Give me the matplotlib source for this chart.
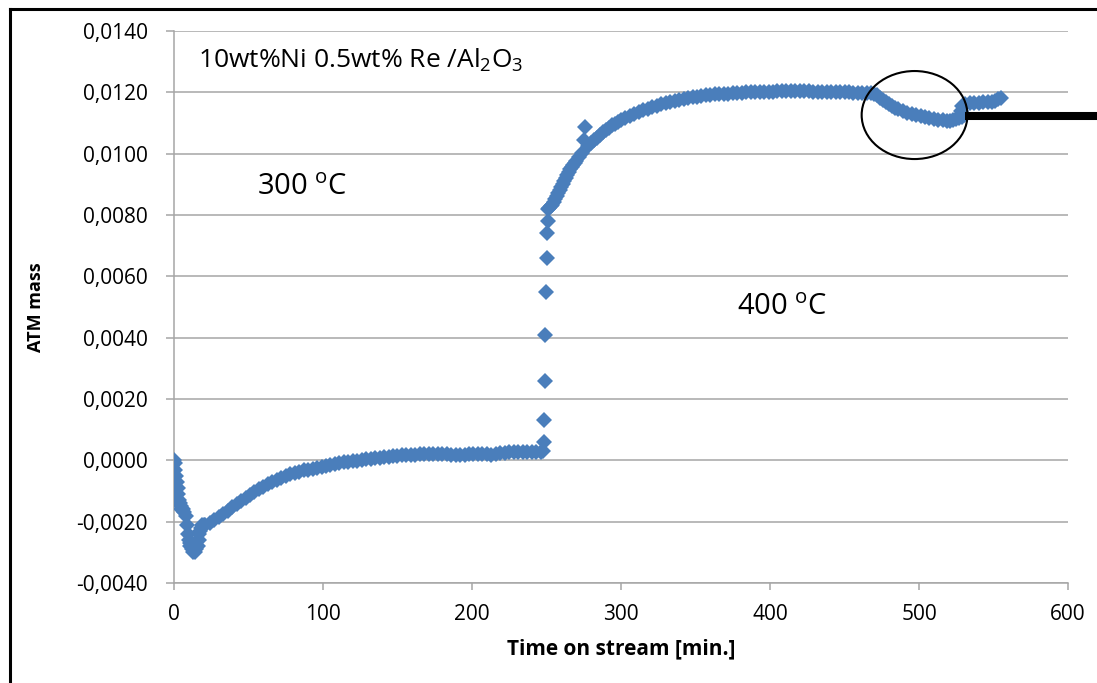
import matplotlib
matplotlib.use("Agg")
import matplotlib.pyplot as plt
from matplotlib.patches import Ellipse
from matplotlib.lines import Line2D
from matplotlib.ticker import FuncFormatter

plt.rcParams['font.family'] = ['Open Sans', 'DejaVu Sans']
plt.rcParams['mathtext.default'] = 'regular'

# start-up dip at 300 C
t_start = [0, 0.5, 1, 1.5, 2, 2.5, 3, 3.5, 4, 4.5, 5, 6, 7, 8, 9, 9.5, 10, 10.5,
           11, 12, 13, 14, 15, 16, 16.5, 17, 17.5, 18, 19, 20]
m_start = [0.0, -0.0001, -0.0003, -0.0005, -0.0007, -0.0009, -0.0011, -0.0013,
           -0.0014, -0.0015, -0.0016, -0.0016, -0.0017, -0.0018, -0.0021, -0.0024,
           -0.0026, -0.0027, -0.0028, -0.0029, -0.0030, -0.0030, -0.0029, -0.0028,
           -0.0026, -0.0024, -0.0023, -0.0022, -0.0021, -0.0021]

# recovery at 300 C
t_300 = [21, 24, 27, 30, 33, 36, 39, 42, 45, 48, 51, 54, 57, 60, 63, 66, 69, 72,
         75, 78, 81, 84, 87, 90, 93, 96, 99, 102, 105, 108, 111, 114, 117, 120,
         123, 126, 129, 132, 135, 138, 141, 144, 147, 150, 153, 156, 159, 162,
         165, 168, 171, 174, 177, 180, 183, 186, 189, 192, 195, 198, 201, 204,
         207, 210, 213, 216, 219, 222, 225, 228, 231, 234, 237, 240, 243, 246, 247.5]
m_300 = [-0.00210, -0.00203, -0.00195, -0.00185, -0.00175, -0.00164, -0.00153,
         -0.00142, -0.00132, -0.00122, -0.00112, -0.00103, -0.00094, -0.00086,
         -0.00078, -0.00070, -0.00063, -0.00057, -0.00051, -0.00046, -0.00041,
         -0.00037, -0.00033, -0.00030, -0.00027, -0.00024, -0.00021, -0.00018,
         -0.00015, -0.00012, -0.00009, -0.00007, -0.00005, -0.00003, -0.00001,
         0.00001, 0.00003, 0.00005, 0.00007, 0.00009, 0.00011, 0.00012, 0.00013,
         0.00015, 0.00016, 0.00017, 0.00018, 0.00019, 0.00020, 0.00020, 0.00021,
         0.00022, 0.00022, 0.00021, 0.00020, 0.00019, 0.00018, 0.00018, 0.00019,
         0.00021, 0.00022, 0.00022, 0.00021, 0.00020, 0.00019, 0.00020, 0.00023,
         0.00025, 0.00026, 0.00026, 0.00027, 0.00027, 0.00027, 0.00028, 0.00028,
         0.00028, 0.00030]

# temperature step
t_jump = [248.5, 248.3, 248.8, 249.2, 249.6, 250.0, 250.4, 250.8]
m_jump = [0.0006, 0.0013, 0.0026, 0.0041, 0.0055, 0.0066, 0.0074, 0.0078]

# 400 C
t_400 = [251, 252, 253, 254, 255, 256, 257, 258, 259, 260, 261, 262, 263, 264,
         265, 266, 267, 268, 269, 270, 272, 274, 275, 276, 278, 280, 282, 284,
         286, 288, 290, 292, 294, 296, 298, 300, 303, 306, 309, 312, 315, 318,
         321, 324, 327, 330, 333, 336, 339, 342, 345, 348, 351, 354, 357, 360,
         363, 366, 369, 372, 375, 378, 381, 384, 387, 390, 393, 396, 399, 402,
         405, 408, 411, 414, 417, 420, 423, 426, 429, 432, 435, 438, 441, 444,
         447, 450, 453, 456, 459, 462, 465, 468, 470, 472, 474, 476, 478, 480,
         482, 484, 486, 489, 492, 495, 498, 501, 504, 507, 510, 513, 516, 519,
         521, 523, 525, 527, 529, 530, 528, 529, 531, 534, 537, 540, 543, 546,
         549, 551, 553, 555]
m_400 = [0.00820, 0.00824, 0.00828, 0.00833, 0.00842, 0.00852, 0.00862, 0.00872,
         0.00882, 0.00892, 0.00902, 0.00912, 0.00922, 0.00932, 0.00941, 0.00949,
         0.00956, 0.00963, 0.00970, 0.00976, 0.00989, 0.01001, 0.01045, 0.01087,
         0.01024, 0.01034, 0.01043, 0.01052, 0.01062, 0.01070, 0.01078, 0.01085,
         0.01092, 0.01098, 0.01104, 0.01110, 0.01117, 0.01124, 0.01130, 0.01136,
         0.01142, 0.01147, 0.01152, 0.01157, 0.01161, 0.01165, 0.01168, 0.01172,
         0.01175, 0.01178, 0.01181, 0.01184, 0.01186, 0.01188, 0.01190, 0.01192,
         0.01193, 0.01194, 0.01195, 0.01196, 0.01197, 0.01198, 0.01199, 0.01200,
         0.01200, 0.01201, 0.01201, 0.01202, 0.01202, 0.01202, 0.01203, 0.01204,
         0.01205, 0.01206, 0.01205, 0.01204, 0.01203, 0.01203, 0.01202, 0.01202,
         0.01202, 0.01201, 0.01201, 0.01200, 0.01200, 0.01200, 0.01200, 0.01199,
         0.01199, 0.01199, 0.01198, 0.01197, 0.01195, 0.01190, 0.01183, 0.01176,
         0.01168, 0.01161, 0.01155, 0.01150, 0.01145, 0.01139, 0.01134, 0.01130,
         0.01126, 0.01122, 0.01119, 0.01116, 0.01113, 0.01111, 0.01109, 0.01107,
         0.01108, 0.01110, 0.01112, 0.01115, 0.01118, 0.01125, 0.01140, 0.01155,
         0.01162, 0.01165, 0.01166, 0.01166, 0.01167, 0.01167, 0.01168, 0.01172,
         0.01177, 0.01180]

x_ticks = [0, 100, 200, 300, 400, 500, 600]
y_ticks = [-0.004, -0.002, 0.0, 0.002, 0.004, 0.006, 0.008, 0.010, 0.012, 0.014]

blue = '#4a7ebb'
grey = '#a6a6a6'

fig = plt.figure(figsize=(10.97, 6.83), dpi=100)
ax = fig.add_axes([0.1586, 0.1464, 0.815, 0.8082])

for t, m in [(t_start, m_start), (t_300, m_300), (t_jump, m_jump), (t_400, m_400)]:
    ax.plot(t, m, linestyle='none', marker='D', markersize=8.5,
            color=blue, markeredgewidth=0, zorder=3)

ax.set_xlim(0, 600)
ax.set_ylim(-0.004, 0.014)
ax.set_xticks(x_ticks)
ax.set_yticks(y_ticks)
ax.yaxis.set_major_formatter(FuncFormatter(lambda v, p: f"{v:.4f}".replace('.', ',')))
ax.grid(axis='y', color=grey, linewidth=1.1)
ax.set_axisbelow(True)
for s in ['top', 'right']:
    ax.spines[s].set_visible(False)
for s in ['left', 'bottom']:
    ax.spines[s].set_color(grey)
    ax.spines[s].set_linewidth(1.1)
ax.tick_params(axis='y', length=6, width=1.1, color=grey, pad=13, labelsize=15)
ax.tick_params(axis='x', length=5, width=1.1, color=grey, pad=10, labelsize=15)

ax.set_xlabel('Time on stream [min.]', fontsize=15, fontweight='bold')
ax.set_ylabel('ATM mass', fontsize=13, fontweight='bold')
ax.xaxis.set_label_coords(0.5, -0.1)
ax.yaxis.set_label_coords(-0.144, 0.5)

ax.text(16, 0.01305, '10wt%Ni 0.5wt% Re /Al$_2$O$_3$', fontsize=19, va='center')
ax.text(56, 0.00891, '300 $^{o}$C', fontsize=21, va='center')
ax.text(378, 0.0050, '400 $^{o}$C', fontsize=21, va='center')

# circled region and pointer bar
ax.add_patch(Ellipse((497, 0.01126), 71, 0.00287, fill=False,
                     edgecolor='black', linewidth=1.5, zorder=4))
ax.plot([531, 625], [0.01123, 0.01123], color='black', linewidth=5.8,
        solid_capstyle='butt', clip_on=False, zorder=4)

# frame around the figure (left and top edges visible)
fig.add_artist(Line2D([9.5 / 1097, 9.5 / 1097], [0, 1 - 8.5 / 683], color='black', linewidth=2.2))
fig.add_artist(Line2D([9.5 / 1097, 1], [1 - 8.5 / 683, 1 - 8.5 / 683], color='black', linewidth=2.2))

fig.savefig('out.png', dpi=100)
